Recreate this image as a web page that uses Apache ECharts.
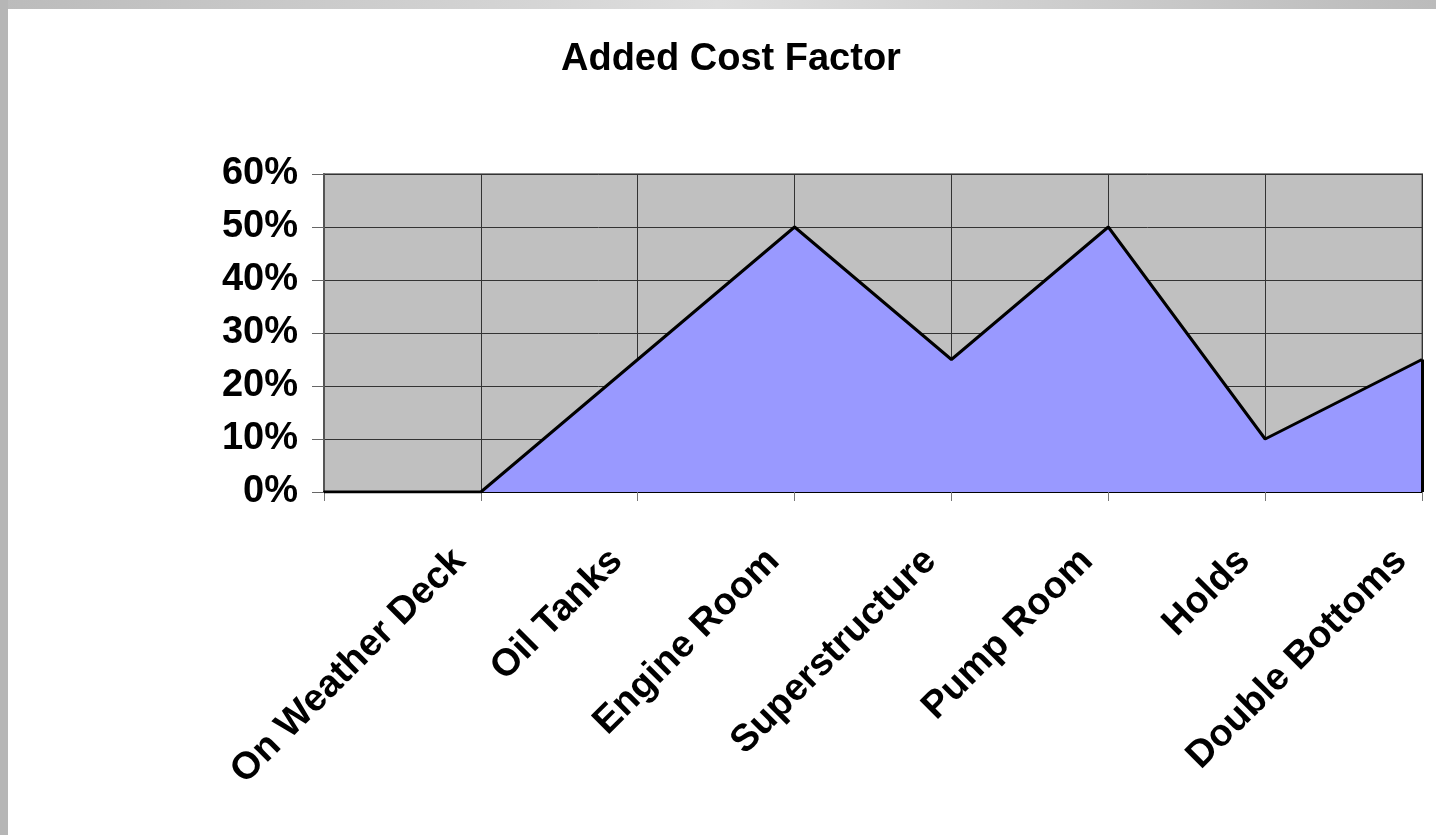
<!DOCTYPE html>
<html>
<head>
<meta charset="utf-8">
<script src="https://cdn.jsdelivr.net/npm/echarts@6/dist/echarts.min.js"></script>
<style>
  html, body { margin: 0; padding: 0; background: #fff; }
  #wrap { position: relative; width: 1436px; height: 835px; overflow: hidden; }
  #chart { position: absolute; left: 0; top: 0; width: 1436px; height: 835px; }
  .frame-top { position: absolute; left: 0; top: 0; width: 1436px; height: 9px;
    background: linear-gradient(to right, #bbbbbb, #dedede 50%, #bbbbbb); z-index: 2; }
  .frame-left { position: absolute; left: 0; top: 0; width: 8px; height: 835px; background: #b6b6b6; z-index: 2; }
</style>
</head>
<body>
<div id="wrap">
  <div id="chart"></div>
  <div class="frame-top"></div>
  <div class="frame-left"></div>
</div>
<script>
const categories = ['', 'On Weather Deck', 'Oil Tanks', 'Engine Room', 'Superstructure', 'Pump Room', 'Holds', 'Double Bottoms']
const costFactor = [0, 0, 0.25, 0.5, 0.25, 0.5, 0.1, 0.25]
const yTicks = [0, 0.1, 0.2, 0.3, 0.4, 0.5, 0.6]

const font = '"Liberation Sans", Arial, sans-serif'
const chart = echarts.init(document.getElementById('chart'), null, { renderer: 'canvas' })

const last = categories.length - 1

chart.setOption({
  animation: false,
  title: {
    text: 'Added Cost Factor',
    left: 556,
    top: 36,
    textStyle: { fontFamily: font, fontWeight: 'bold', fontSize: 38, color: '#000' },
  },
  grid: {
    left: 324, right: 14, top: 174, bottom: 343,
    show: true, backgroundColor: '#c0c0c0', borderColor: '#8a8a8a', borderWidth: 2,
  },
  xAxis: {
    type: 'category',
    data: categories,
    boundaryGap: false,
    axisLine: { lineStyle: { color: '#000', width: 2 } },
    axisTick: { show: true, length: 9, lineStyle: { color: '#777', width: 1 } },
    splitLine: { show: true, lineStyle: { color: '#333', width: 1 } },
    axisLabel: {
      rotate: 45,
      margin: 42,
      interval: 0,
      padding: [0, 30, 0, 0],
      fontFamily: font, fontWeight: 'bold', fontSize: 38, color: '#000',
    },
  },
  yAxis: {
    type: 'value',
    min: yTicks[0],
    max: yTicks[yTicks.length - 1],
    interval: 0.1,
    axisLine: { show: true, lineStyle: { color: '#555', width: 2 } },
    axisTick: { show: true, length: 12, lineStyle: { color: '#666', width: 1 } },
    splitLine: { show: true, lineStyle: { color: '#333', width: 1 } },
    axisLabel: {
      margin: 26,
      formatter: (v) => Math.round(v * 100) + '%',
      fontFamily: font, fontWeight: 'bold', fontSize: 38, color: '#000',
    },
  },
  series: [
    {
      type: 'line',
      data: costFactor,
      symbol: 'none',
      lineStyle: { color: '#000', width: 3 },
      areaStyle: { color: '#9999ff', opacity: 1 },
      markLine: {
        silent: true,
        symbol: 'none',
        label: { show: false },
        lineStyle: { color: '#000', width: 3, type: 'solid' },
        data: [[{ coord: [last, 0] }, { coord: [last, costFactor[last]] }]],
      },
    },
  ],
})
</script>
</body>
</html>
